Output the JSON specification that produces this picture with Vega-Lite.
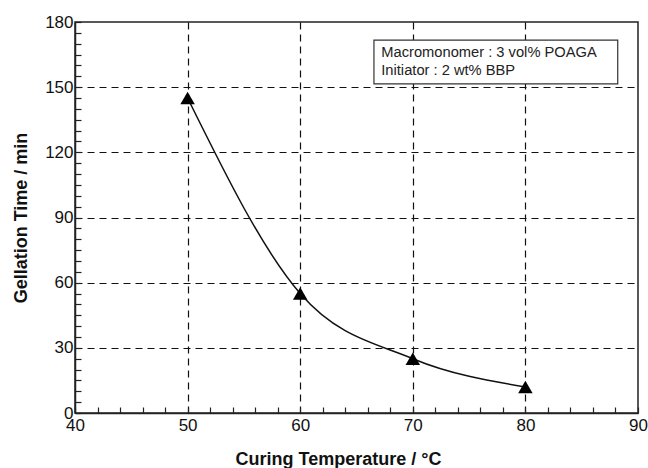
{
  "$schema": "https://vega.github.io/schema/vega-lite/v6.json",
  "width": 563,
  "height": 391,
  "autosize": {"type": "none"},
  "padding": {"left": 75, "top": 22, "right": 10, "bottom": 55},
  "background": "white",
  "config": {
    "font": "Liberation Sans",
    "view": {"stroke": "#222", "strokeWidth": 1.5},
    "axis": {
      "domainColor": "#222",
      "domainWidth": 1.5,
      "tickColor": "#222",
      "tickWidth": 1.2,
      "labelFont": "Liberation Sans",
      "labelFontSize": 17,
      "labelColor": "#111",
      "titleFont": "Liberation Sans",
      "titleFontSize": 18,
      "titleFontWeight": "bold",
      "titleColor": "#111",
      "gridColor": "#111",
      "gridDash": [7, 5],
      "gridWidth": 1.2
    }
  },
  "datasets": {
    "points": [
      {"temp": 50, "time": 145},
      {"temp": 60, "time": 55},
      {"temp": 70, "time": 25},
      {"temp": 80, "time": 12}
    ],
    "box": [
      {"x1": 66.55, "x2": 88.2, "y1": 151.5, "y2": 171.7}
    ],
    "notes": [
      {"x": 67.2, "y": 165.7, "label": "Macromonomer : 3 vol% POAGA"},
      {"x": 67.2, "y": 157.6, "label": "Initiator : 2 wt% BBP"}
    ]
  },
  "layer": [
    {
      "data": {"name": "points"},
      "mark": {"type": "line", "interpolate": "monotone", "color": "#111", "strokeWidth": 1.5, "clip": true},
      "encoding": {
        "x": {
          "field": "temp", "type": "quantitative",
          "scale": {"domain": [40, 90], "nice": false, "zero": false},
          "axis": {
            "title": "Curing Temperature /  °C",
            "titleX": 263,
            "titlePadding": 17,
            "tickCount": 100,
            "format": "d",
            "values": [40,42,44,46,48,50,52,54,56,58,60,62,64,66,68,70,72,74,76,78,80,82,84,86,88,90],
            "labelExpr": "datum.value % 10 == 0 ? datum.label : ''",
            "labelOverlap": false,
            "labelFlush": false,
            "labelPadding": 10,
            "tickSize": -6,
            "grid": true,
            "gridOpacity": {"condition": {"test": "datum.value % 10 == 0 && datum.value > 40 && datum.value < 90", "value": 1}, "value": 0}
          }
        },
        "y": {
          "field": "time", "type": "quantitative",
          "scale": {"domain": [0, 180], "nice": false},
          "axis": {
            "title": "Gellation Time / min",
            "titlePadding": 14,
            "tickCount": 100,
            "format": "d",
            "values": [0,5,10,15,20,25,30,35,40,45,50,55,60,65,70,75,80,85,90,95,100,105,110,115,120,125,130,135,140,145,150,155,160,165,170,175,180],
            "labelExpr": "datum.value % 30 == 0 ? datum.label : ''",
            "labelOverlap": false,
            "labelFlush": false,
            "labelPadding": 8,
            "tickSize": -6,
            "grid": true,
            "gridOpacity": {"condition": {"test": "datum.value % 30 == 0 && datum.value > 0 && datum.value < 180", "value": 1}, "value": 0}
          }
        }
      }
    },
    {
      "data": {"name": "points"},
      "mark": {"type": "point", "shape": "triangle-up", "filled": true, "color": "#000", "opacity": 1, "size": 210},
      "encoding": {
        "x": {"field": "temp", "type": "quantitative"},
        "y": {"field": "time", "type": "quantitative"}
      }
    },
    {
      "data": {"name": "box"},
      "mark": {"type": "rect", "fill": "white", "stroke": "#333", "strokeWidth": 1.2},
      "encoding": {
        "x": {"field": "x1", "type": "quantitative"},
        "x2": {"field": "x2"},
        "y": {"field": "y1", "type": "quantitative"},
        "y2": {"field": "y2"}
      }
    },
    {
      "data": {"name": "notes"},
      "mark": {"type": "text", "align": "left", "baseline": "middle", "fontSize": 14.7, "font": "Liberation Sans", "color": "#222"},
      "encoding": {
        "x": {"field": "x", "type": "quantitative"},
        "y": {"field": "y", "type": "quantitative"},
        "text": {"field": "label"}
      }
    }
  ]
}
